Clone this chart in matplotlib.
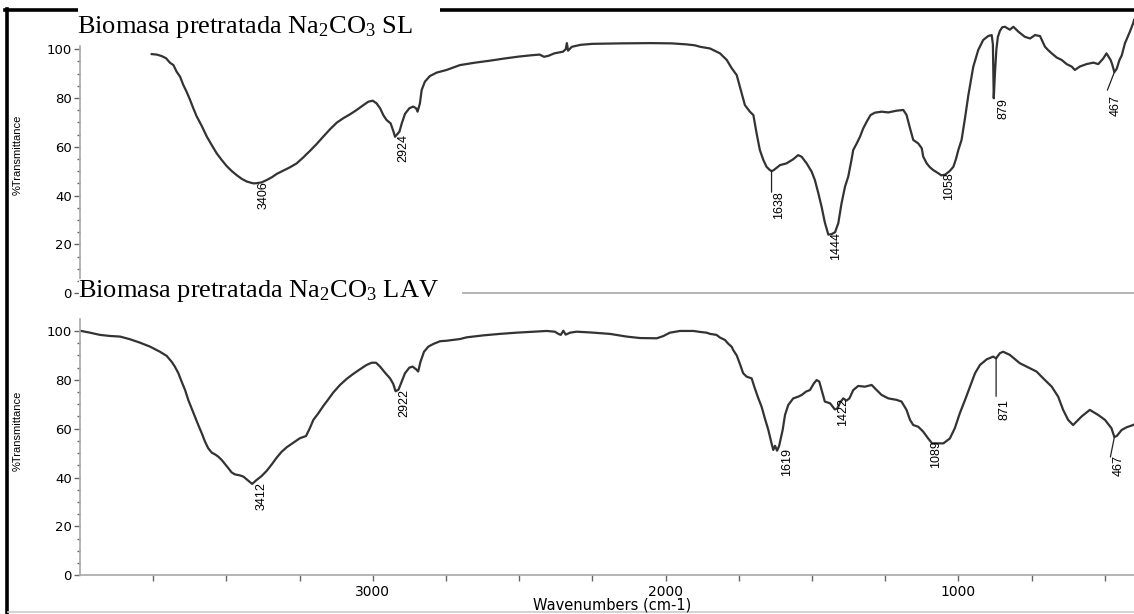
import numpy as np
import matplotlib
matplotlib.use("Agg")
import matplotlib.pyplot as plt
from matplotlib.lines import Line2D
from matplotlib.patches import Rectangle

plt.rcParams["mathtext.fontset"] = "custom"
plt.rcParams["mathtext.rm"] = "Liberation Serif"
plt.rcParams["mathtext.it"] = "Liberation Serif:italic"

# ---- FTIR spectrum: biomass pretreated with Na2CO3, SL (wavenumber, %T) ----
spectrum_sl = [
    (3755, 98.0), (3738, 97.8), (3721, 97.2), (3706, 96.3), (3693, 94.5), (3681, 93.5),
    (3670, 90.8), (3658, 88.7), (3647, 85.3), (3636, 82.6), (3624, 79.2), (3613, 75.8),
    (3602, 72.6), (3584, 68.5), (3567, 64.2), (3550, 60.7), (3533, 57.3), (3516, 54.6),
    (3499, 52.1), (3482, 50.1), (3465, 48.4), (3448, 46.9), (3431, 45.8), (3414, 45.2),
    (3406, 45.0), (3397, 45.1), (3380, 45.4), (3362, 46.4), (3345, 47.5), (3328, 48.9),
    (3306, 50.2), (3283, 51.6), (3260, 53.2), (3237, 55.7), (3214, 58.4), (3192, 61.1),
    (3169, 64.2), (3146, 67.2), (3123, 69.9), (3101, 71.7), (3078, 73.3), (3055, 75.1),
    (3032, 77.1), (3015, 78.5), (3000, 78.9), (2987, 77.8), (2975, 75.8), (2964, 73.0),
    (2953, 71.0), (2939, 69.6), (2930, 66.5), (2924, 64.1), (2909, 66.2), (2901, 69.6),
    (2890, 73.5), (2875, 75.8), (2862, 76.5), (2852, 75.8), (2847, 74.4), (2839, 77.8),
    (2833, 83.3), (2822, 86.7), (2805, 89.0), (2782, 90.4), (2748, 91.5), (2702, 93.5),
    (2650, 94.5), (2600, 95.3), (2550, 96.2), (2500, 97.0), (2460, 97.5), (2430, 97.8),
    (2415, 96.9), (2400, 97.3), (2380, 98.3), (2350, 99.0), (2341, 100.0), (2337, 102.5),
    (2333, 99.4), (2320, 101.0), (2290, 101.8), (2250, 102.2), (2150, 102.4), (2050, 102.5),
    (1980, 102.4), (1930, 102.0), (1900, 101.6), (1882, 101.0), (1848, 100.3), (1814, 98.3),
    (1791, 95.6), (1774, 92.2), (1757, 89.4), (1746, 84.6), (1729, 77.1), (1712, 74.4),
    (1700, 73.0), (1689, 65.5), (1678, 58.7), (1666, 54.6), (1655, 51.8), (1645, 50.6),
    (1638, 50.0), (1630, 50.5), (1609, 52.5), (1587, 53.2), (1564, 54.9), (1547, 56.6),
    (1535, 55.9), (1518, 53.2), (1501, 49.8), (1490, 46.4), (1478, 40.9), (1467, 35.4),
    (1456, 29.0), (1444, 24.0), (1433, 24.2), (1421, 25.0), (1410, 28.7), (1399, 36.8),
    (1387, 43.7), (1376, 47.8), (1365, 54.6), (1359, 58.7), (1347, 61.4), (1336, 64.1),
    (1325, 67.5), (1313, 70.3), (1300, 73.0), (1285, 74.0), (1262, 74.4), (1239, 74.1),
    (1211, 74.8), (1188, 75.1), (1177, 73.1), (1165, 67.6), (1154, 62.8), (1137, 61.4),
    (1125, 59.4), (1120, 56.0), (1108, 53.2), (1097, 51.6), (1086, 50.5), (1069, 49.2),
    (1058, 48.3), (1045, 48.6), (1030, 50.0), (1017, 51.8), (1008, 55.0), (1000, 58.7),
    (989, 62.8), (977, 71.9), (966, 81.0), (949, 92.8), (932, 99.7), (915, 103.8),
    (898, 105.4), (886, 105.8), (882, 102.0), (879, 79.9), (875, 90.0), (870, 100.0),
    (865, 105.0), (858, 107.5), (850, 109.0), (841, 109.2), (824, 108.0), (812, 109.2),
    (795, 107.2), (773, 105.1), (755, 104.4), (738, 105.8), (721, 105.4), (704, 101.0),
    (693, 99.6), (681, 98.3), (664, 96.6), (647, 95.6), (630, 93.9), (613, 92.9),
    (602, 91.5), (585, 92.9), (562, 93.9), (539, 94.5), (522, 93.9), (505, 96.2),
    (494, 98.3), (480, 95.6), (475, 94.0), (467, 90.6), (459, 92.0), (450, 95.5),
    (442, 97.4), (431, 102.4), (414, 107.2), (403, 110.6), (400, 112.0),
]

# ---- FTIR spectrum: biomass pretreated with Na2CO3, LAV (wavenumber, %T) ----
spectrum_lav = [
    (4000, 100.1), (3966, 99.3), (3932, 98.4), (3898, 97.95), (3863, 97.7), (3829, 96.6),
    (3795, 95.2), (3761, 93.6), (3727, 91.5), (3704, 89.8), (3687, 87.4), (3676, 85.4),
    (3664, 82.7), (3653, 79.3), (3641, 75.8), (3630, 71.7), (3619, 68.4), (3607, 64.9),
    (3596, 61.5), (3584, 58.1), (3573, 54.7), (3562, 52.0), (3550, 50.2), (3539, 49.5),
    (3528, 48.6), (3516, 47.2), (3505, 45.6), (3493, 43.8), (3482, 42.1), (3471, 41.3),
    (3454, 40.9), (3442, 40.4), (3431, 39.3), (3419, 38.1), (3412, 37.4), (3397, 39.0),
    (3380, 40.6), (3362, 42.8), (3345, 45.4), (3328, 48.2), (3311, 50.6), (3294, 52.4),
    (3271, 54.3), (3249, 56.1), (3228, 57.0), (3215, 60.2), (3203, 63.6), (3186, 66.3),
    (3169, 69.3), (3152, 72.0), (3135, 74.8), (3112, 77.9), (3089, 80.4), (3067, 82.4),
    (3044, 84.3), (3021, 86.1), (3004, 87.0), (2989, 87.0), (2975, 85.4), (2958, 82.9),
    (2941, 80.6), (2930, 78.3), (2922, 75.3), (2912, 76.0), (2901, 79.3), (2890, 82.7),
    (2875, 85.0), (2864, 85.4), (2852, 84.3), (2845, 83.4), (2837, 87.4), (2825, 91.5),
    (2810, 93.6), (2793, 94.7), (2770, 95.8), (2748, 96.0), (2702, 96.7), (2679, 97.4),
    (2622, 98.2), (2566, 98.8), (2509, 99.3), (2452, 99.7), (2406, 100.0), (2378, 99.7),
    (2366, 98.8), (2358, 98.4), (2349, 100.1), (2341, 98.5), (2326, 99.3), (2304, 99.7),
    (2258, 99.4), (2190, 98.8), (2133, 97.7), (2087, 97.1), (2030, 97.0), (2008, 97.9),
    (1985, 99.3), (1951, 100.0), (1905, 100.0), (1882, 99.6), (1860, 99.3), (1848, 98.8),
    (1826, 98.4), (1814, 97.3), (1797, 96.3), (1786, 94.8), (1774, 93.5), (1769, 92.2),
    (1757, 90.0), (1746, 86.5), (1735, 82.7), (1723, 81.3), (1706, 80.6), (1695, 76.5),
    (1683, 72.4), (1672, 69.0), (1661, 64.3), (1649, 59.5), (1638, 54.0), (1632, 51.3),
    (1626, 53.0), (1619, 51.0), (1612, 53.0), (1600, 59.5), (1592, 65.6), (1581, 69.7),
    (1564, 72.4), (1547, 73.1), (1535, 73.8), (1520, 75.2), (1507, 75.8), (1493, 78.6),
    (1484, 79.9), (1475, 79.3), (1467, 75.8), (1456, 71.1), (1438, 70.4), (1422, 67.9),
    (1413, 68.3), (1404, 70.7), (1393, 72.4), (1382, 71.5), (1372, 72.4), (1359, 75.8),
    (1342, 77.5), (1319, 77.2), (1296, 77.9), (1279, 75.8), (1262, 73.8), (1239, 72.4),
    (1211, 71.8), (1194, 71.1), (1177, 67.7), (1165, 63.6), (1154, 61.5), (1137, 60.8),
    (1120, 58.8), (1103, 56.0), (1089, 53.9), (1069, 54.0), (1051, 54.0), (1029, 56.0),
    (1012, 60.2), (995, 66.3), (977, 71.8), (960, 77.2), (943, 82.7), (926, 86.1),
    (903, 88.4), (881, 89.5), (871, 88.8), (858, 90.9), (847, 91.5), (824, 90.2),
    (790, 86.8), (755, 84.7), (733, 83.4), (710, 80.6), (681, 77.2), (659, 73.1),
    (642, 67.7), (625, 63.6), (608, 61.5), (579, 65.0), (551, 67.7), (522, 65.6),
    (499, 63.6), (477, 60.2), (467, 56.6), (459, 57.0), (442, 59.5), (425, 60.6),
    (403, 61.5), (400, 61.7),
]

# Labelled band positions (cm-1)
peaks_sl = [3406, 2924, 1638, 1444, 1058, 879, 467]
peaks_lav = [3412, 2922, 1619, 1422, 1089, 871, 467]

title_sl = r"Biomasa pretratada Na$_2$CO$_3$ SL"
title_lav = r"Biomasa pretratada Na$_2$CO$_3$ LAV"
ylabel = "%Transmittance"
xlabel = "Wavenumbers (cm-1)"

W, H = 1134, 614
fig = plt.figure(figsize=(W / 100, H / 100), dpi=100)


def rect(x0, y0, x1, y1):
    return [x0 / W, 1 - y1 / H, (x1 - x0) / W, (y1 - y0) / H]


def fx(x):
    return x / W


def fy(y):
    return 1 - y / H


ax1 = fig.add_axes(rect(80, 17.5, 1134, 293.2))
ax2 = fig.add_axes(rect(80, 316.3, 1134, 575.3))

line_c = "#333333"
spine_c = "#a8a8a8"
tick_c = "#666666"

for ax, spec, ytop in ((ax1, spectrum_sl, 113), (ax2, spectrum_lav, 106)):
    wn, t = zip(*spec)
    ax.plot(wn, t, color=line_c, lw=1.6, solid_joinstyle="round")
    ax.set_xlim(4000, 400)
    ax.set_ylim(0, ytop)
    ax.patch.set_alpha(0)
    for s in ("top", "right"):
        ax.spines[s].set_visible(False)
    for s in ("left", "bottom"):
        ax.spines[s].set_color(spine_c)
        ax.spines[s].set_linewidth(1.2)
    ax.set_yticks([0, 20, 40, 60, 80, 100])
    ax.set_yticks(np.arange(0, 101, 5), minor=True)
    ax.tick_params(axis="y", which="major", direction="out", length=4, width=1,
                   color=tick_c, pad=2, labelsize=9.5, labelcolor="black")
    ax.tick_params(axis="y", which="minor", direction="out", length=2.5, width=1,
                   color=tick_c)
    for lab in ax.get_yticklabels():
        lab.set_family("DejaVu Sans")

ax1.spines["left"].set_bounds(-1, 101.5)
ax2.spines["left"].set_bounds(0, 105)
ax1.set_xticks([])
ax1.set_xticks([], minor=True)

ax2.set_xticks([3000, 2000, 1000])
ax2.set_xticks(np.arange(3750, 400, -250), minor=True)
ax2.tick_params(axis="x", which="both", direction="out", length=4.5, width=1,
                color=tick_c, pad=2.5, labelsize=10)
for lab in ax2.get_xticklabels():
    lab.set_family("DejaVu Sans")

# text offset (dx, dy) and optional leader-line end, all in pixels from the band
lab_sl = {3406: (4, 2, None), 2924: (2, 3, None), 1638: (2, -20, (0, -21)),
          1444: (1.5, 3, None), 1058: (1.5, 3, None), 879: (4, 0, None),
          467: (-5, -23, (-7, -18))}
lab_lav = {3412: (3, 2, None), 2922: (3, 2, None), 1619: (4, 3, None),
           1422: (2, 11, None), 1089: (-2, 3, None), 871: (2, -41, (0, -38)),
           467: (-2, -18, (-4, -20))}

for ax, spec, peaks, lab in ((ax1, spectrum_sl, peaks_sl, lab_sl),
                             (ax2, spectrum_lav, peaks_lav, lab_lav)):
    lookup = dict(spec)
    for p in peaks:
        tp = lookup[p]
        dx, dy, lead = lab[p]
        if lead is not None:
            ax.annotate("", xy=(p, tp), xytext=lead, textcoords="offset pixels",
                        arrowprops=dict(arrowstyle="-", lw=0.9, color="#222222",
                                        shrinkA=0, shrinkB=0))
        ax.annotate(str(p), xy=(p, tp), xytext=(dx, dy), textcoords="offset pixels",
                    rotation=90, ha="left", va="top", fontsize=9,
                    family="Liberation Sans", color="black")

# page frame
fig.add_artist(Line2D([fx(6.5), fx(6.5)], [fy(8.5), fy(614)], color="black", lw=2.6))
fig.add_artist(Line2D([fx(5), fx(1134)], [fy(10), fy(10)], color="black", lw=2.6))
fig.add_artist(Line2D([fx(8), fx(1134)], [fy(612), fy(612)], color="#cccccc", lw=1.2))

# white boxes behind the panel titles
fig.add_artist(Rectangle((fx(78), fy(42)), fx(440) - fx(78), fy(2) - fy(42),
                         facecolor="white", edgecolor="none", zorder=5))
fig.add_artist(Rectangle((fx(79), fy(304)), fx(462) - fx(79), fy(279) - fy(304),
                         facecolor="white", edgecolor="none", zorder=5))

fig.text(fx(77), fy(33), title_sl, fontsize=19, family="Liberation Serif",
         ha="left", va="baseline", zorder=6)
fig.text(fx(78), fy(297), title_lav, fontsize=19, family="Liberation Serif",
         ha="left", va="baseline", zorder=6)

for yc in (155, 431):
    fig.text(fx(18), fy(yc), ylabel, rotation=90, fontsize=8,
             family="Liberation Sans", ha="center", va="center")

fig.text(fx(612), fy(605.5), xlabel, fontsize=10.5, family="DejaVu Sans",
         ha="center", va="center")

fig.savefig("out.png", dpi=100, facecolor="white")
